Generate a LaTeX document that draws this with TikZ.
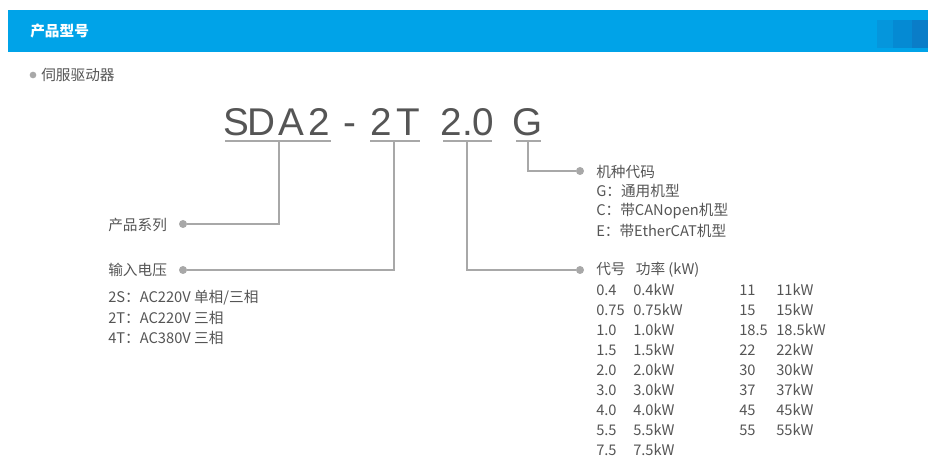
\documentclass[tikz,border=0pt]{standalone}
\usepackage{fontspec}
\setmainfont{Noto Sans CJK SC}
\newfontfamily\codefont{Liberation Sans}
\definecolor{hdr}{HTML}{00A3E8}
\definecolor{hdrA}{HTML}{0596DC}
\definecolor{hdrB}{HTML}{058AD3}
\definecolor{hdrC}{HTML}{0A7DC8}
\definecolor{txt}{HTML}{555555}
\definecolor{ln}{HTML}{A8A8A8}
\begin{document}
\begin{tikzpicture}[x=0.75pt,y=-0.75pt,
  lbl/.style={anchor=west,inner sep=0pt,text=txt,font=\fontsize{11pt}{12pt}\selectfont},
  ch/.style={anchor=base,inner sep=0pt,text=txt,font=\codefont\fontsize{29pt}{30pt}\selectfont},
  conn/.style={draw=ln,line width=0.9pt},
  uline/.style={draw=ln,line width=1.2pt},
  dotc/.style={circle,fill=ln,inner sep=0pt,minimum size=6pt}]
\useasboundingbox (0,0) rectangle (936,470);
\fill[hdr] (8,10) rectangle (928,52);
\fill[hdrA] (877,20) rectangle (893,48);
\fill[hdrB] (893,20) rectangle (912,48);
\fill[hdrC] (912,20) rectangle (928,48);
\node[anchor=west,inner sep=0pt,text=white,font=\bfseries\fontsize{11pt}{12pt}\selectfont] (title) at (30,31) {产品型号};
\node[dotc,minimum size=5pt] (b0) at (33,75) {};
\node[lbl] (sub) at (41,75) {伺服驱动器};
% code characters
\foreach \c/\x [count=\i] in {S/236,D/261.5,A/291.5,2/319,-/349.5,2/381,T/408.5,2.0/467.5,G/528}{
  \node[ch] (c\i) at (\x,136) {\c};}
\draw[uline] (225,141) -- (331,141);
\draw[uline] (370,141) -- (420,141);
\draw[uline] (443,141) -- (492,141);
\draw[uline] (516,141) -- (541,141);
\coordinate (u1) at (279,142);
\coordinate (u2) at (394,142);
\coordinate (u3) at (467,142);
\coordinate (u4) at (528,142);
\node[dotc] (d1) at (183,224) {};
\node[dotc] (d2) at (183,270) {};
\node[dotc] (d3) at (580,270) {};
\node[dotc] (d4) at (580,171) {};
\draw[conn] (u1) |- (d1);
\draw[conn] (u2) |- (d2);
\draw[conn] (u3) |- (d3);
\draw[conn] (u4) |- (d4);
\node[lbl] (l1) at (108,225) {产品系列};
\node[lbl] (l2) at (108,270) {输入电压};
\node[lbl] (l2a) at (108,298) {2S：AC220V 单相/三相};
\node[lbl] (l2b) at (108,318) {2T：AC220V 三相};
\node[lbl] (l2c) at (108,338) {4T：AC380V 三相};
\node[lbl] (r1) at (596,172) {机种代码};
\node[lbl] (r1a) at (596,191) {G：通用机型};
\node[lbl] (r1b) at (596,211) {C：带CANopen机型};
\node[lbl] (r1c) at (596,231) {E：带EtherCAT机型};
\node[lbl] (r2) at (596,270) {代号\hspace{0.7em}功率 (kW)};
\foreach \a/\b [count=\i] in {0.4/0.4kW,0.75/0.75kW,1.0/1.0kW,1.5/1.5kW,2.0/2.0kW,3.0/3.0kW,4.0/4.0kW,5.5/5.5kW,7.5/7.5kW}{
  \node[lbl] (pa\i) at (596,270+20*\i) {\a};
  \node[lbl] (pb\i) at (633,270+20*\i) {\b};}
\foreach \a/\b [count=\i] in {11/11kW,15/15kW,18.5/18.5kW,22/22kW,30/30kW,37/37kW,45/45kW,55/55kW}{
  \node[lbl] (qa\i) at (739,270+20*\i) {\a};
  \node[lbl] (qb\i) at (776,270+20*\i) {\b};}
\end{tikzpicture}
\end{document}
